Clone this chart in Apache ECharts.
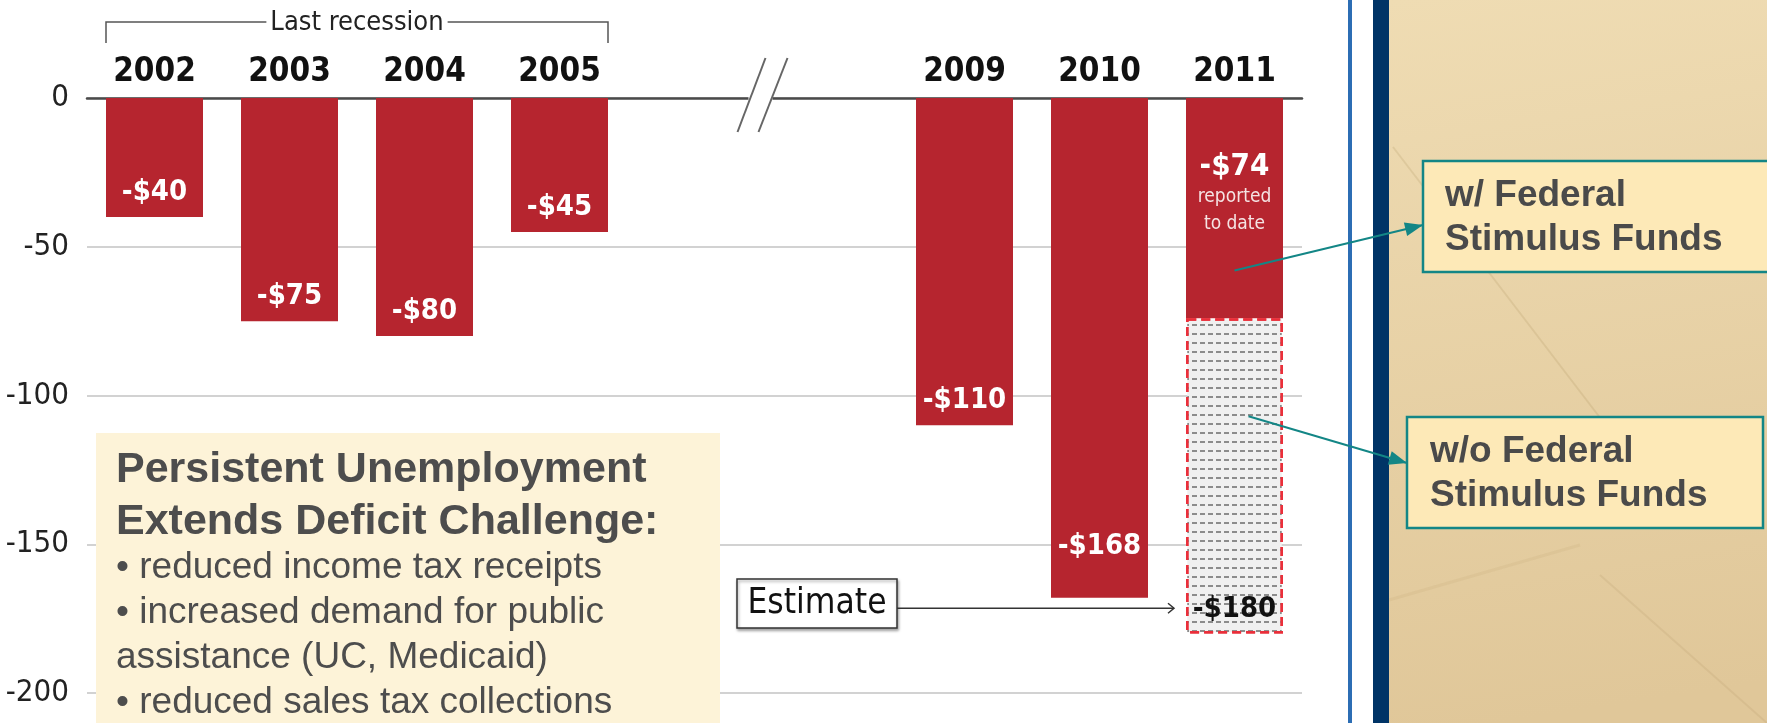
<!DOCTYPE html>
<html>
<head>
<meta charset="utf-8">
<script src="https://cdn.jsdelivr.net/npm/echarts@6/dist/echarts.min.js"></script>
<style>
  html, body { margin: 0; padding: 0; background: #fff; }
  #main { width: 1767px; height: 723px; }
</style>
</head>
<body>
<div id="main"></div>
<script>
// values in $ millions (state budget gap), two empty slots mark the axis break
var years = ['2002', '2003', '2004', '2005', '', '', '2009', '2010', '2011'];
var deficit = [-40, -75, -80, -45, null, null, -110, -168, -74];
var estimate = [null, null, null, null, null, null, null, null, -180];
var yMin = -200, yMax = 0, yStep = 50;

var COND = "'DejaVu Sans Condensed', 'Liberation Sans Narrow', 'DejaVu Sans', sans-serif";
var ARIAL = "'Liberation Sans', Arial, sans-serif";
var RED = '#b6252f';
var TEAL = '#138686';
var BAR_W = 97;

function money(v) { return '-$' + Math.abs(v); }

var reportedData = deficit.map(function (v, i) {
    if (v == null) return null;
    var item = { value: v };
    if (i === 7) item.label = { distance: 37 };
    if (i === 8) {
        item.label = {
            position: 'insideTop',
            distance: 52,
            formatter: '{a|' + money(v) + '}\n{b|reported}\n{b|to date}',
            rich: {
                a: { fontFamily: COND, fontWeight: 'bold', fontSize: 31, color: '#fff', lineHeight: 34 },
                b: { fontFamily: COND, fontWeight: 'normal', fontSize: 19, color: '#f5e3e3', lineHeight: 27 }
            }
        };
    }
    return item;
});

// remaining part of the estimate, stacked under the reported part
var restData = estimate.map(function (v, i) {
    return v == null ? null : v - deficit[i];
});

var chart = echarts.init(document.getElementById('main'));

chart.setOption({
    animation: false,
    grid: { left: 87, right: 465, top: 98, bottom: 30, containLabel: false },
    xAxis: {
        type: 'category',
        data: years,
        position: 'top',
        axisLine: { lineStyle: { color: '#4a4a4a', width: 2.5 } },
        axisTick: { show: false },
        axisLabel: { fontFamily: COND, fontWeight: 'bold', fontSize: 33, color: '#111', margin: 9 },
        splitLine: { show: false }
    },
    yAxis: {
        type: 'value',
        min: yMin, max: yMax, interval: yStep,
        axisLine: { show: false },
        axisTick: { show: false },
        axisLabel: { fontFamily: COND, fontSize: 31, color: '#222', margin: 18 },
        splitLine: { lineStyle: { color: '#d2d2d2', width: 2 } }
    },
    series: [
        {
            name: 'reported',
            type: 'bar',
            stack: 'gap',
            barWidth: BAR_W,
            data: reportedData,
            itemStyle: { color: RED },
            label: {
                show: true,
                position: 'insideBottom',
                distance: 10,
                fontFamily: COND, fontWeight: 'bold', fontSize: 29, color: '#fff',
                formatter: function (p) { return money(p.value); }
            },
            z: 3
        },
        {
            name: 'estimate',
            type: 'bar',
            stack: 'gap',
            barWidth: BAR_W,
            data: restData,
            itemStyle: {
                color: '#f0f0f0',
                borderColor: '#ea2f3a',
                borderWidth: 2.5,
                borderType: [9, 5],
                decal: {
                    symbol: 'rect',
                    symbolSize: 1,
                    symbolKeepAspect: false,
                    color: '#8c8c8c',
                    dashArrayX: [5, 3],
                    dashArrayY: [1.2, 7]
                }
            },
            label: {
                show: true,
                position: 'insideBottom',
                distance: 10,
                fontFamily: COND, fontWeight: 'bold', fontSize: 29, color: '#111',
                formatter: function (p) { return money(estimate[p.dataIndex]); }
            },
            z: 3
        }
    ]
});

function px(i, v) { return chart.convertToPixel({ gridIndex: 0 }, [i, v]); }

function arrowHead(x1, y1, x2, y2, len, half) {
    var dx = x2 - x1, dy = y2 - y1;
    var d = Math.sqrt(dx * dx + dy * dy);
    var ux = dx / d, uy = dy / d;
    var bx = x2 - ux * len, by = y2 - uy * len;
    return [[x2, y2], [bx - uy * half, by + ux * half], [bx + uy * half, by - ux * half]];
}

var g = [];

// right side panel
g.push({ type: 'rect', shape: { x: 1348, y: 0, width: 4, height: 723 }, style: { fill: '#2c6db4' }, z: 1 });
g.push({ type: 'rect', shape: { x: 1373, y: 0, width: 16, height: 723 }, style: { fill: '#003466' }, z: 1 });
g.push({
    type: 'rect', shape: { x: 1389, y: 0, width: 378, height: 723 }, z: 1,
    style: {
        fill: new echarts.graphic.LinearGradient(0, 0, 0.3, 1, [
            { offset: 0, color: '#efdcb3' }, { offset: 1, color: '#e0c799' }
        ])
    }
});
g.push({ type: 'line', shape: { x1: 1393, y1: 147, x2: 1640, y2: 470 }, style: { stroke: 'rgba(140,110,60,0.14)', lineWidth: 2 }, z: 2 });
g.push({ type: 'line', shape: { x1: 1600, y1: 575, x2: 1767, y2: 723 }, style: { stroke: 'rgba(140,110,60,0.1)', lineWidth: 2 }, z: 2 });
g.push({ type: 'line', shape: { x1: 1389, y1: 600, x2: 1580, y2: 545 }, style: { stroke: 'rgba(140,110,60,0.07)', lineWidth: 3 }, z: 2 });

// last recession bracket
var bx1 = px(0, 0)[0] - BAR_W / 2, bx2 = px(3, 0)[0] + BAR_W / 2;
g.push({
    type: 'polyline', z: 5,
    shape: { points: [[bx1, 43], [bx1, 22], [bx2, 22], [bx2, 43]] },
    style: { stroke: '#555', lineWidth: 1.5, fill: null }
});
g.push({
    type: 'text', z: 6, x: (bx1 + bx2) / 2, y: 23,
    style: {
        text: 'Last recession', font: '27px ' + COND, fill: '#222',
        align: 'center', verticalAlign: 'middle', backgroundColor: '#fff', padding: [0, 4]
    }
});

// axis break marks
var mx = (px(4, 0)[0] + px(5, 0)[0]) / 2;
g.push({ type: 'rect', z: 6, shape: { x: mx - 13.5, y: 93, width: 24, height: 10 }, style: { fill: '#fff' } });
g.push({ type: 'line', z: 7, shape: { x1: mx + 3.5, y1: 58, x2: mx - 24.5, y2: 132 }, style: { stroke: '#666', lineWidth: 2 } });
g.push({ type: 'line', z: 7, shape: { x1: mx + 25.5, y1: 58, x2: mx - 3.5, y2: 132 }, style: { stroke: '#666', lineWidth: 2 } });

// estimate callout
var ey = px(8, -171.5)[1];
var ex = px(8, 0)[0] - BAR_W / 2 - 12;
g.push({
    type: 'rect', z: 6, shape: { x: 737, y: 579, width: 160, height: 49 },
    style: { fill: '#fff', stroke: '#333', lineWidth: 1.5, shadowBlur: 3, shadowOffsetX: 1, shadowOffsetY: 2, shadowColor: 'rgba(0,0,0,0.35)' }
});
g.push({
    type: 'text', z: 7, x: 817, y: 604,
    style: { text: 'Estimate', font: '35px ' + COND, fill: '#111', align: 'center', verticalAlign: 'middle' }
});
g.push({ type: 'line', z: 6, shape: { x1: 897, y1: ey, x2: ex, y2: ey }, style: { stroke: '#333', lineWidth: 1.5 } });
g.push({ type: 'polyline', z: 6, shape: { points: [[ex - 6, ey - 5], [ex, ey], [ex - 6, ey + 5]] }, style: { stroke: '#333', lineWidth: 1.5, fill: null } });

// left text box
g.push({ type: 'rect', z: 8, shape: { x: 96, y: 433, width: 624, height: 300 }, style: { fill: '#fdf3d8' } });
var boxLines = [
    { t: 'Persistent Unemployment', y: 470, f: 'bold 43px ' + ARIAL },
    { t: 'Extends Deficit Challenge:', y: 522, f: 'bold 43px ' + ARIAL },
    { t: '\u2022 reduced income tax receipts', y: 568, f: '37px ' + ARIAL },
    { t: '\u2022 increased demand for public', y: 613, f: '37px ' + ARIAL },
    { t: 'assistance (UC, Medicaid)', y: 658, f: '37px ' + ARIAL },
    { t: '\u2022 reduced sales tax collections', y: 703, f: '37px ' + ARIAL }
];
boxLines.forEach(function (l) {
    g.push({ type: 'text', z: 9, x: 116, y: l.y, style: { text: l.t, font: l.f, fill: '#4d4d4d', verticalAlign: 'middle' } });
});

// stimulus callouts
function callout(bx, by, bw, lines, tx, fromPt, toPt) {
    g.push({ type: 'rect', z: 8, shape: { x: bx, y: by, width: bw, height: 111 }, style: { fill: '#fde9b7', stroke: TEAL, lineWidth: 2.5 } });
    lines.forEach(function (t, k) {
        g.push({ type: 'text', z: 9, x: tx, y: by + 35 + k * 44, style: { text: t, font: 'bold 37px ' + ARIAL, fill: '#4a4a4a', verticalAlign: 'middle' } });
    });
    g.push({ type: 'line', z: 9, shape: { x1: fromPt[0], y1: fromPt[1], x2: toPt[0], y2: toPt[1] }, style: { stroke: TEAL, lineWidth: 2 } });
    g.push({ type: 'polygon', z: 9, shape: { points: arrowHead(fromPt[0], fromPt[1], toPt[0], toPt[1], 18, 7) }, style: { fill: TEAL } });
}
var p1 = px(8, -58);
callout(1423, 161, 360, ['w/ Federal', 'Stimulus Funds'], 1445, [p1[0], p1[1]], [1423, 225]);
var p2 = px(8, -107);
callout(1407, 417, 356, ['w/o Federal', 'Stimulus Funds'], 1430, [p2[0] + 14, p2[1]], [1407, 463]);

chart.setOption({ graphic: g });
</script>
</body>
</html>
